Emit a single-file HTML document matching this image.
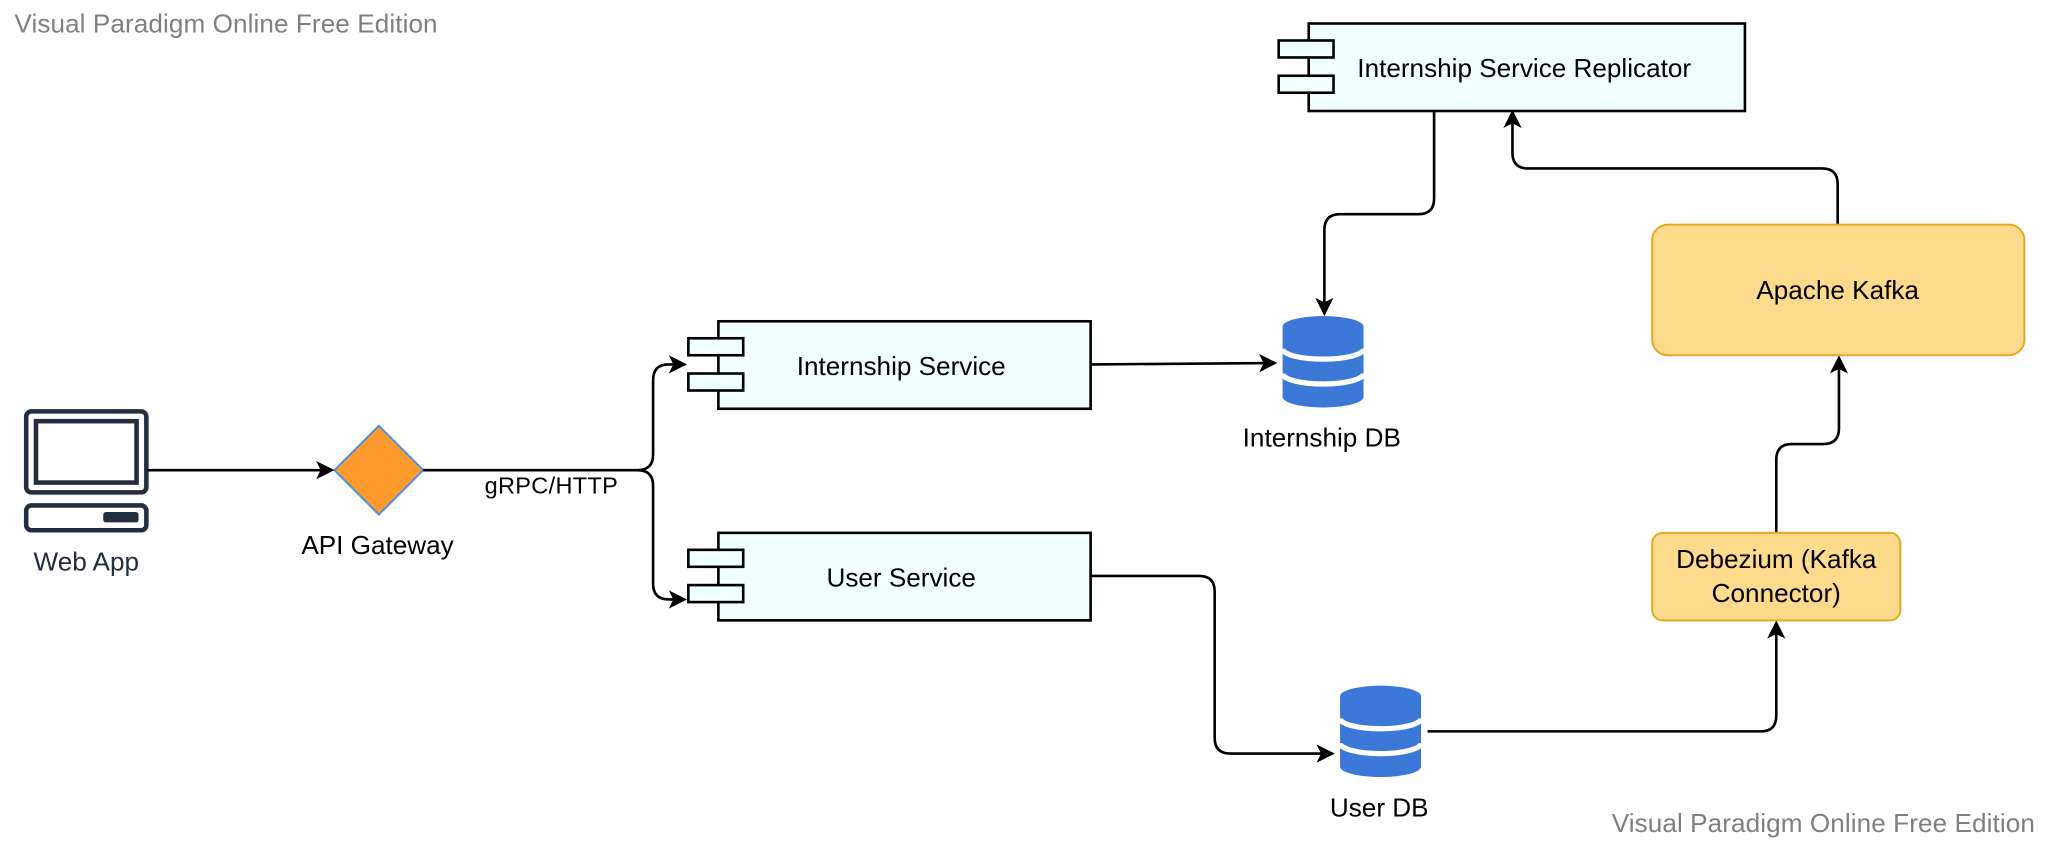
<!DOCTYPE html>
<html><head><meta charset="utf-8"><style>
html,body{margin:0;padding:0;background:#fff;}
svg{display:block;}
text{font-family:"Liberation Sans",sans-serif;}
</style></head><body>
<svg width="2048" height="845" viewBox="0 0 1568 647" xmlns="http://www.w3.org/2000/svg">
<defs>
<marker id="ah" markerWidth="14" markerHeight="14" refX="12" refY="7" orient="auto" markerUnits="userSpaceOnUse">
<path d="M0,0 L14,7 L0,14 L3.5,7 Z" fill="#000"/>
</marker>
<g id="db">
<path d="M0,8 A31,8 0 0 1 62,8 L62,62 A31,8 0 0 1 0,62 Z" fill="#3b78d8"/>
<path d="M0,25 A31,8 0 0 0 62,25" fill="none" stroke="#fff" stroke-width="4"/>
<path d="M0,44 A31,8 0 0 0 62,44" fill="none" stroke="#fff" stroke-width="4"/>
</g>
</defs>
<rect width="1568" height="647" fill="#fff"/>
<text x="11" y="25" font-size="20" fill="#808080" textLength="324">Visual Paradigm Online Free Edition</text>
<text x="1234" y="637" font-size="20" fill="#808080" textLength="324">Visual Paradigm Online Free Edition</text>

<!-- Web App -->
<rect x="20" y="315" width="92" height="62" rx="4" fill="none" stroke="#232f3e" stroke-width="3.5"/>
<rect x="27.5" y="322.5" width="77" height="47" fill="none" stroke="#232f3e" stroke-width="3.5"/>
<rect x="20" y="387" width="92" height="19" rx="4" fill="none" stroke="#232f3e" stroke-width="3.5"/>
<rect x="79" y="392" width="27" height="8" rx="2" fill="#232f3e"/>
<text x="66" y="437" font-size="20" fill="#232f3e" text-anchor="middle">Web App</text>

<!-- API Gateway -->
<polygon points="256,360 290,326 324,360 290,394" fill="#ff9a2e" stroke="#4a90e2" stroke-width="1.5"/>
<text x="289" y="424" font-size="20" text-anchor="middle">API Gateway</text>

<g fill="none" stroke="#000" stroke-width="2">
<path d="M113,360 L254,360" marker-end="url(#ah)"/>
<path d="M324,360 L488,360 Q500,360 500,348 L500,291 Q500,279 512,279 L524,279" marker-end="url(#ah)"/>
<path d="M488,360 Q500,360 500,372 L500,447 Q500,459 512,459 L524,459" marker-end="url(#ah)"/>
<path d="M835,279 L976,278" marker-end="url(#ah)"/>
<path d="M1098,85 L1098,152 Q1098,164 1086,164 L1026,164 Q1014,164 1014,176 L1014,240" marker-end="url(#ah)"/>
<path d="M1407,172 L1407,141 Q1407,129 1395,129 L1170,129 Q1158,129 1158,117 L1158,86" marker-end="url(#ah)"/>
<path d="M1360,408 L1360,352 Q1360,340 1372,340 L1396,340 Q1408,340 1408,328 L1408,274" marker-end="url(#ah)"/>
<path d="M835,441 L918,441 Q930,441 930,453 L930,565 Q930,577 942,577 L1020,577" marker-end="url(#ah)"/>
<path d="M1093,560 L1348,560 Q1360,560 1360,548 L1360,477" marker-end="url(#ah)"/>
</g>
<text x="371" y="378" font-size="18" textLength="102">gRPC/HTTP</text>

<!-- Components -->
<g fill="#f0ffff" stroke="#000" stroke-width="2">
<rect x="550" y="246" width="285" height="67"/>
<rect x="527" y="259" width="42" height="13"/>
<rect x="527" y="286" width="42" height="13"/>
<rect x="550" y="408" width="285" height="67"/>
<rect x="527" y="421" width="42" height="13"/>
<rect x="527" y="448" width="42" height="13"/>
<rect x="1002" y="18" width="334" height="67"/>
<rect x="979" y="31" width="42" height="13"/>
<rect x="979" y="58" width="42" height="13"/>
</g>
<text x="690" y="287" font-size="20" text-anchor="middle">Internship Service</text>
<text x="690" y="449" font-size="20" text-anchor="middle">User Service</text>
<text x="1167" y="59" font-size="20" text-anchor="middle">Internship Service Replicator</text>

<!-- DBs -->
<use href="#db" x="982" y="242"/>
<text x="1012" y="342" font-size="20" text-anchor="middle">Internship DB</text>
<use href="#db" x="1026" y="525"/>
<text x="1056" y="625" font-size="20" text-anchor="middle">User DB</text>

<!-- Kafka -->
<rect x="1265" y="172" width="285" height="100" rx="12" fill="#fedb8c" stroke="#e6a822" stroke-width="1.5"/>
<text x="1407" y="229" font-size="20" text-anchor="middle">Apache Kafka</text>
<rect x="1265" y="408" width="190" height="67" rx="8" fill="#fedb8c" stroke="#e6a822" stroke-width="1.5"/>
<text x="1360" y="435" font-size="20" text-anchor="middle">Debezium (Kafka</text>
<text x="1360" y="461" font-size="20" text-anchor="middle">Connector)</text>
</svg>
</body></html>
